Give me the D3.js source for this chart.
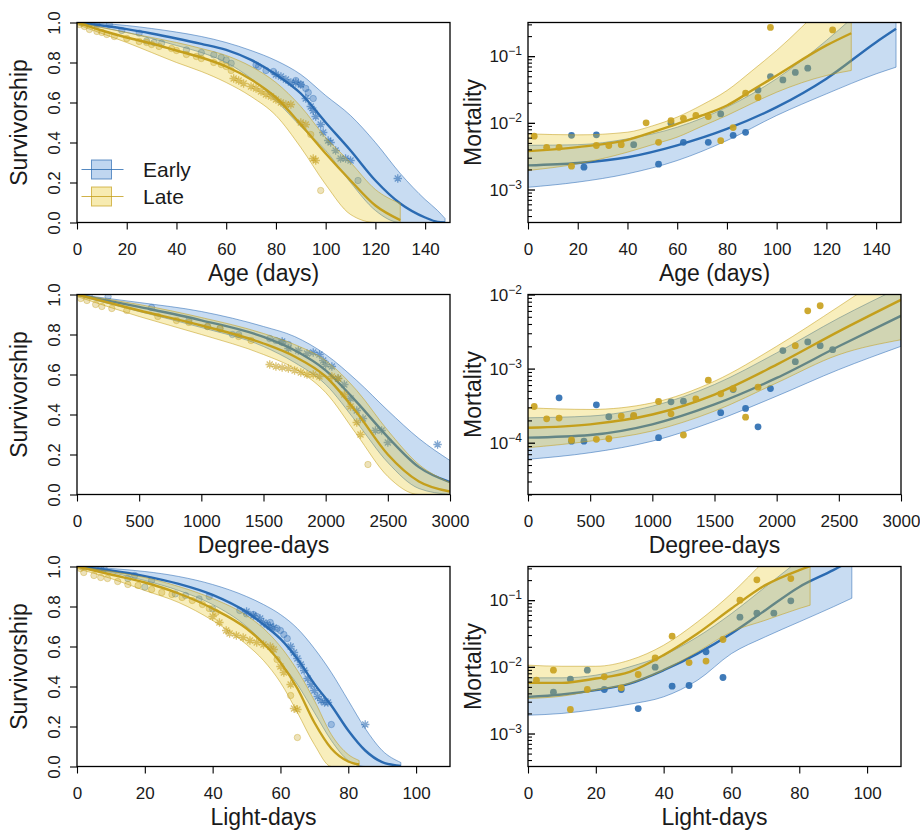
<!DOCTYPE html>
<html><head><meta charset="utf-8">
<script src="https://cdn.jsdelivr.net/npm/d3@7"></script>
<style>body{margin:0;background:#fff} text{font-family:"Liberation Sans",Arial,Helvetica,sans-serif}</style>
</head><body><svg id="chart" width="920" height="830"></svg>
<script>
// ---------- Tick values / labels ----------
const ageTicks = [0,20,40,60,80,100,120,140];
const ddTicks = [0,500,1000,1500,2000,2500,3000];
const ldTicks = [0,20,40,60,80,100];
const survTicks = [0,0.2,0.4,0.6,0.8,1.0];
const survTickLabels = ["0.0","0.2","0.4","0.6","0.8","1.0"];
const mortMajorA = [1e-3,1e-2,1e-1];
const mortMajorA_lab = ["\u22123","\u22122","\u22121"];
const mortMajorB = [1e-4,1e-3,1e-2];
const mortMajorB_lab = ["\u22124","\u22123","\u22122"];
const seriesNames = ["Early","Late"];

// ---------- Survivorship vs Age ----------
const ageEarlyX    = [0,10,20,30,40,50,60,70,80,90,100,110,120,130,140,145,148];
const ageEarlyMean = [1,0.985,0.967,0.945,0.92,0.893,0.863,0.813,0.74,0.645,0.50,0.36,0.21,0.095,0.025,0.003,0];
const ageEarlyHi   = [1,0.995,0.985,0.97,0.952,0.93,0.9,0.86,0.81,0.74,0.635,0.535,0.4,0.245,0.115,0.06,0.02];
const ageEarlyLo   = [1,0.975,0.95,0.92,0.885,0.85,0.8,0.72,0.61,0.48,0.36,0.2,0.06,0,0,0,0];
const ageLateX     = [0,10,20,30,40,50,60,70,80,90,100,110,120,130];
const ageLateMean  = [1,0.96,0.925,0.895,0.86,0.825,0.78,0.715,0.625,0.49,0.345,0.21,0.085,0.012];
const ageLateHi    = [1,0.975,0.95,0.925,0.9,0.87,0.835,0.78,0.7,0.58,0.425,0.3,0.165,0.095];
const ageLateLo    = [0.99,0.945,0.9,0.85,0.8,0.755,0.7,0.63,0.535,0.375,0.19,0.04,0,0];
const ageEarlyCirc = [[2,1.0],[8,0.99],[13,0.99],[18,0.96],[25,0.947],[28,0.908],[31,0.9],[34,0.896],[44,0.863],[50,0.85],[55,0.838],[58,0.825],[60,0.813],[62,0.796],[72,0.788],[73,0.78],[76,0.76],[79,0.755],[88,0.71],[90,0.69],[92,0.67],[93,0.65],[95,0.62],[113,0.21]];
const ageEarlyStar = [[80,0.74],[82,0.73],[84,0.715],[86,0.7],[88,0.7],[90,0.69],[92,0.62],[94,0.58],[95,0.56],[96,0.53],[98,0.49],[99,0.45],[101,0.41],[102,0.4],[104,0.36],[106,0.32],[108,0.32],[110,0.31],[129,0.22]];
const ageLateCirc  = [[1,0.99],[3,0.98],[5,0.965],[8,0.955],[10,0.95],[12,0.94],[15,0.93],[20,0.92],[25,0.905],[28,0.9],[30,0.89],[33,0.88],[38,0.87],[40,0.86],[44,0.84],[48,0.83],[50,0.82],[55,0.8],[58,0.79],[60,0.78],[62,0.76],[94,0.44],[98,0.16]];
const ageLateStar  = [[63,0.72],[65,0.71],[67,0.695],[70,0.68],[72,0.67],[74,0.655],[76,0.64],[78,0.63],[80,0.615],[82,0.6],[84,0.59],[86,0.59],[90,0.5],[92,0.49],[95,0.32],[96,0.31]];

// ---------- Mortality vs Age ----------
const mAgeEarlyX    = [0,20,40,60,80,100,120,140,148];
const mAgeEarlyMean = [2.3e-3,2.5e-3,3.05e-3,4.6e-3,8.1e-3,1.72e-2,4.6e-2,0.162,0.257];
const mAgeEarlyLo   = [1.08e-3,1.29e-3,1.72e-3,2.72e-3,5.43e-3,1.29e-2,2.72e-2,5.43e-2,6.84e-2];
const mAgeEarlyHi   = [4.6e-3,4.7e-3,5.75e-3,8.6e-3,1.72e-2,4.6e-2,0.172,0.8,1.5];
const mAgeLateX     = [0,20,40,50,60,70,80,90,100,120,130];
const mAgeLateMean  = [3.76e-3,4.32e-3,5.56e-3,7.24e-3,9.66e-3,1.29e-2,1.82e-2,3.05e-2,5.13e-2,0.145,0.221];
const mAgeLateLo    = [1.93e-3,2.43e-3,3.63e-3,4.7e-3,6.1e-3,8.9e-3,1.29e-2,1.95e-2,2.88e-2,5.13e-2,6.1e-2];
const mAgeLateHi    = [6.84e-3,6.6e-3,7.24e-3,9.0e-3,1.22e-2,1.86e-2,3.05e-2,6.0e-2,0.122,0.6,1.2];
const mAgeEarlyPts  = [[17.5,6.5e-3],[22.5,2.16e-3],[27.5,6.6e-3],[42.5,4.7e-3],[52.5,2.4e-3],[57.5,9.9e-3],[62.5,5.1e-3],[72.5,5.1e-3],[77.5,1.36e-2],[82.5,6.5e-3],[87.5,7.2e-3],[92.5,3.1e-2],[97.5,4.95e-2],[102.5,4.4e-2],[107.5,5.7e-2],[112.5,6.6e-2]];
const mAgeLatePts   = [[2.5,6.3e-3],[7.5,4.3e-3],[12.5,4.3e-3],[17.5,2.24e-3],[27.5,4.57e-3],[32.5,4.57e-3],[37.5,4.7e-3],[47.5,1.0e-2],[52.5,5.1e-3],[57.5,1.08e-2],[62.5,1.17e-2],[67.5,1.29e-2],[72.5,1.24e-2],[77.5,5.4e-3],[82.5,8.5e-3],[87.5,2.8e-2],[92.5,2.4e-2],[97.5,0.27],[122.5,0.248]];

// ---------- Survivorship vs Degree-days ----------
const ddEarlyX    = [0,500,1000,1500,1750,2000,2250,2500,2750,3000];
const ddEarlyMean = [1,0.938,0.871,0.788,0.721,0.621,0.462,0.287,0.137,0.062];
const ddEarlyHi   = [1,0.96,0.915,0.84,0.79,0.7,0.57,0.42,0.28,0.17];
const ddEarlyLo   = [0.995,0.915,0.835,0.74,0.66,0.55,0.36,0.16,0.03,0];
const ddLateX     = [0,500,1000,1500,1750,2000,2250,2500,2750,3000];
const ddLateMean  = [1,0.92,0.845,0.755,0.69,0.59,0.41,0.2,0.065,0.015];
const ddLateHi    = [1,0.95,0.885,0.805,0.75,0.67,0.52,0.32,0.15,0.06];
const ddLateLo    = [0.99,0.89,0.8,0.7,0.63,0.51,0.3,0.09,0,0];
const ddEarlyCirc = [[100,1],[250,0.99],[600,0.935],[900,0.87],[1050,0.84],[1150,0.83],[1250,0.8],[1300,0.8],[1550,0.78],[1600,0.77],[1650,0.76],[1700,0.75]];
const ddEarlyStar = [[1650,0.765],[1700,0.73],[1780,0.72],[1850,0.705],[1900,0.71],[1950,0.7],[1980,0.67],[2000,0.65],[2050,0.64],[2100,0.58],[2150,0.55],[2200,0.48],[2250,0.42],[2300,0.38],[2400,0.32],[2450,0.32],[2500,0.26],[2900,0.25]];
const ddLateCirc  = [[30,0.98],[80,0.97],[150,0.95],[200,0.94],[280,0.93],[400,0.92],[650,0.89],[800,0.87],[900,0.86],[1050,0.84],[1150,0.83],[1300,0.79],[1400,0.77],[2340,0.15]];
const ddLateStar  = [[1550,0.65],[1600,0.64],[1650,0.635],[1700,0.63],[1750,0.62],[1800,0.61],[1850,0.6],[1900,0.6],[1950,0.59],[2050,0.59],[2100,0.58],[2150,0.5],[2200,0.44],[2250,0.36],[2280,0.3]];

// ---------- Mortality vs Degree-days ----------
const mDdX        = [0,500,1000,1500,2000,2500,3000];
const mDdEarlyMean= [1.17e-4,1.27e-4,1.77e-4,3.28e-4,7.48e-4,2.0e-3,5.16e-3];
const mDdEarlyLo  = [5.97e-5,7.33e-5,1.05e-4,1.95e-4,4.25e-4,9.7e-4,2.0e-3];
const mDdEarlyHi  = [2.17e-4,2.29e-4,3.11e-4,6.1e-4,1.63e-3,4.81e-3,1.26e-2];
const mDdLateMean = [1.59e-4,1.77e-4,2.4e-4,4.47e-4,1.13e-3,3.18e-3,8.47e-3];
const mDdLateLo   = [8.57e-5,1.05e-4,1.44e-4,2.67e-4,6.41e-4,1.54e-3,2.45e-3];
const mDdLateHi   = [2.96e-4,2.81e-4,3.45e-4,6.76e-4,2.0e-3,6.9e-3,2.5e-2];
const mDdEarlyPts = [[250,4.03e-4],[350,1.05e-4],[450,1.05e-4],[550,3.24e-4],[650,2.24e-4],[850,2.29e-4],[1050,1.17e-4],[1150,3.56e-4],[1250,3.64e-4],[1550,2.54e-4],[1650,5.21e-4],[1750,2.9e-4],[1850,1.64e-4],[1950,5.38e-4],[2050,1.75e-3],[2150,1.24e-3],[2250,2.29e-3],[2350,2.04e-3],[2450,1.8e-3]];
const mDdLatePts  = [[50,3.08e-4],[150,2.1e-4],[250,2.15e-4],[350,1.09e-4],[550,1.11e-4],[650,1.13e-4],[750,2.29e-4],[850,2.33e-4],[1050,3.6e-4],[1150,2.45e-4],[1250,1.27e-4],[1350,3.91e-4],[1450,6.97e-4],[1550,4.56e-4],[1650,5.38e-4],[1750,2.21e-4],[1850,5.61e-4],[2150,2.04e-3],[2250,6.03e-3],[2350,7.05e-3]];

// ---------- Survivorship vs Light-days ----------
const ldEarlyX    = [0,10,20,30,40,50,55,60,65,70,75,80,85,90,95.5];
const ldEarlyMean = [1,0.98,0.952,0.913,0.858,0.772,0.71,0.638,0.538,0.413,0.305,0.18,0.08,0.022,0.003];
const ldEarlyHi   = [1,0.99,0.975,0.95,0.91,0.85,0.81,0.76,0.69,0.59,0.47,0.33,0.19,0.08,0.02];
const ldEarlyLo   = [0.995,0.97,0.93,0.88,0.81,0.7,0.62,0.52,0.41,0.27,0.13,0.03,0,0,0];
const ldLateX     = [0,10,20,30,40,50,55,60,65,70,75,80,83.2];
const ldLateMean  = [1,0.96,0.92,0.865,0.79,0.69,0.615,0.52,0.39,0.22,0.09,0.025,0.01];
const ldLateHi    = [1,0.975,0.945,0.9,0.84,0.755,0.69,0.6,0.48,0.33,0.16,0.06,0.03];
const ldLateLo    = [0.99,0.94,0.88,0.82,0.73,0.61,0.53,0.42,0.27,0.11,0,0,0];
const ldEarlyCirc = [[2,1],[7,0.99],[8,0.99],[15,0.94],[17,0.955],[20,0.897],[22,0.93],[29,0.863],[32,0.855],[36,0.838],[39,0.85],[40,0.788],[48,0.78],[50,0.763],[52,0.76],[53,0.75],[57,0.72],[59,0.69],[60,0.68],[61,0.66],[62,0.64],[75,0.21]];
const ldEarlyStar = [[50,0.775],[52,0.755],[54,0.74],[55,0.72],[56,0.71],[57,0.7],[58,0.695],[63,0.6],[64,0.57],[65,0.54],[66,0.51],[67,0.48],[68,0.44],[69,0.41],[70,0.38],[71,0.35],[72,0.33],[73,0.32],[74,0.32],[85,0.21]];
const ldLateCirc  = [[1,0.99],[2,0.97],[5,0.955],[7,0.945],[9,0.94],[12,0.925],[15,0.91],[18,0.905],[22,0.885],[25,0.87],[28,0.86],[31,0.845],[34,0.83],[37,0.81],[39,0.79],[41,0.77],[59,0.535],[63,0.355],[65,0.145]];
const ldLateStar  = [[40,0.75],[42,0.72],[44,0.68],[45,0.665],[47,0.655],[49,0.645],[51,0.63],[53,0.62],[55,0.61],[57,0.6],[58,0.585],[60,0.5],[61,0.47],[63,0.41],[64,0.29],[65,0.285]];

// ---------- Mortality vs Light-days ----------
const mLdEarlyX    = [0,10,20,30,40,50,60,70,80,90,95.5];
const mLdEarlyMean = [3.55e-3,3.85e-3,4.47e-3,5.62e-3,8.9e-3,1.58e-2,3.16e-2,7.08e-2,0.158,0.282,0.4];
const mLdEarlyLo   = [1.88e-3,2.0e-3,2.29e-3,2.75e-3,3.55e-3,6.3e-3,1.58e-2,2.82e-2,4.73e-2,7.94e-2,0.107];
const mLdEarlyHi   = [6.84e-3,6.84e-3,7.5e-3,1.0e-2,1.5e-2,2.82e-2,6.3e-2,0.158,0.4,1.0,1.6];
const mLdLateX     = [0,10,20,30,40,50,60,70,80,83.2];
const mLdLateMean  = [5.75e-3,5.75e-3,6.68e-3,8.4e-3,1.5e-2,3.16e-2,7.5e-2,0.168,0.282,0.324];
const mLdLateLo    = [3.35e-3,3.63e-3,4.47e-3,5.62e-3,8.9e-3,1.68e-2,3.35e-2,5.0e-2,7.5e-2,8.41e-2];
const mLdLateHi    = [1.06e-2,1.02e-2,1.02e-2,1.26e-2,2.11e-2,4.73e-2,0.126,0.4,1.2,2.0];
const mLdEarlyPts  = [[7.5,4.17e-3],[12.5,6.53e-3],[17.5,8.91e-3],[22.5,4.57e-3],[27.5,4.57e-3],[32.5,2.37e-3],[37.5,9.89e-3],[42.5,5.13e-3],[47.5,5.25e-3],[52.5,1.68e-2],[57.5,6.92e-3],[62.5,5.56e-2],[67.5,6.38e-2],[72.5,6.38e-2],[77.5,9.77e-2]];
const mLdLatePts   = [[2.5,6.31e-3],[7.5,8.91e-3],[12.5,2.29e-3],[17.5,4.57e-3],[22.5,7.08e-3],[27.5,4.84e-3],[32.5,7.67e-3],[37.5,1.36e-2],[42.5,2.88e-2],[47.5,1.16e-2],[52.5,1.22e-2],[57.5,2.57e-2],[62.5,0.1],[67.5,0.202],[77.5,0.211]];

// ---------- Build panel table ----------
function ser(x, m, lo, hi){ return x.map((v,i)=>({x:v, m:m[i], lo:lo[i], hi:hi[i]})); }
const panels = [
  {col:0,row:0,type:"surv",xdom:[0,150],xticks:ageTicks,xtitle:"Age (days)",
   E:ser(ageEarlyX,ageEarlyMean,ageEarlyLo,ageEarlyHi), L:ser(ageLateX,ageLateMean,ageLateLo,ageLateHi),
   Ec:ageEarlyCirc,Es:ageEarlyStar,Lc:ageLateCirc,Ls:ageLateStar,legend:true},
  {col:1,row:0,type:"mort",xdom:[0,150],xticks:ageTicks,xtitle:"Age (days)",ydom:[3.2e-4,0.32],maj:mortMajorA,majLab:mortMajorA_lab,
   E:ser(mAgeEarlyX,mAgeEarlyMean,mAgeEarlyLo,mAgeEarlyHi), L:ser(mAgeLateX,mAgeLateMean,mAgeLateLo,mAgeLateHi),
   Ep:mAgeEarlyPts,Lp:mAgeLatePts},
  {col:0,row:1,type:"surv",xdom:[0,3000],xticks:ddTicks,xtitle:"Degree-days",
   E:ser(ddEarlyX,ddEarlyMean,ddEarlyLo,ddEarlyHi), L:ser(ddLateX,ddLateMean,ddLateLo,ddLateHi),
   Ec:ddEarlyCirc,Es:ddEarlyStar,Lc:ddLateCirc,Ls:ddLateStar},
  {col:1,row:1,type:"mort",xdom:[0,3000],xticks:ddTicks,xtitle:"Degree-days",ydom:[2e-5,1e-2],maj:mortMajorB,majLab:mortMajorB_lab,
   E:ser(mDdX,mDdEarlyMean,mDdEarlyLo,mDdEarlyHi), L:ser(mDdX,mDdLateMean,mDdLateLo,mDdLateHi),
   Ep:mDdEarlyPts,Lp:mDdLatePts},
  {col:0,row:2,type:"surv",xdom:[0,110],xticks:ldTicks,xtitle:"Light-days",
   E:ser(ldEarlyX,ldEarlyMean,ldEarlyLo,ldEarlyHi), L:ser(ldLateX,ldLateMean,ldLateLo,ldLateHi),
   Ec:ldEarlyCirc,Es:ldEarlyStar,Lc:ldLateCirc,Ls:ldLateStar},
  {col:1,row:2,type:"mort",xdom:[0,110],xticks:ldTicks,xtitle:"Light-days",ydom:[3.2e-4,0.32],maj:mortMajorA,majLab:mortMajorA_lab,
   E:ser(mLdEarlyX,mLdEarlyMean,mLdEarlyLo,mLdEarlyHi), L:ser(mLdLateX,mLdLateMean,mLdLateLo,mLdLateHi),
   Ep:mLdEarlyPts,Lp:mLdLatePts}
];

const COL = {
  E:{line:"#2b6bb2", fill:"#4a8ad4", pt:"#2f6fb2"},
  L:{line:"#c49f1c", fill:"#e8c620", pt:"#c9a220"}
};
const W = 373, H = 200;
const colX = [77, 528];
const rowY = [22.5, 294.5, 566.5];
const svg = d3.select("#chart");

function starPath(r){
  const d = r*0.72;
  return `M${-r},0H${r}M0,${-r}V${r}M${-d},${-d}L${d},${d}M${-d},${d}L${d},${-d}`;
}

panels.forEach((p, idx) => {
  const g = svg.append("g").attr("transform", `translate(${colX[p.col]},${rowY[p.row]})`);
  const x = d3.scaleLinear().domain(p.xdom).range([0, W]);
  const y = p.type === "surv" ? d3.scaleLinear().domain([0,1]).range([H,0])
                              : d3.scaleLog().domain(p.ydom).range([H,0]);
  const cid = "clip" + idx;
  g.append("clipPath").attr("id", cid).append("rect").attr("width", W).attr("height", H);
  const plot = g.append("g").attr("clip-path", `url(#${cid})`);

  ["E","L"].forEach(k => {
    const c = COL[k], s = p[k];
    const area = d3.area().x(d=>x(d.x)).y0(d=>y(d.lo)).y1(d=>y(d.hi)).curve(d3.curveMonotoneX);
    plot.append("path").datum(s).attr("d", area)
      .attr("fill", c.fill).attr("fill-opacity", 0.3)
      .attr("stroke", c.line).attr("stroke-opacity", 0.6).attr("stroke-width", 0.9);
    const line = d3.line().x(d=>x(d.x)).y(d=>y(d.m)).curve(d3.curveMonotoneX);
    plot.append("path").datum(s).attr("d", line)
      .attr("fill","none").attr("stroke", c.line).attr("stroke-width", 2.4);
    if (p.type === "surv") {
      plot.append("g").selectAll("circle").data(p[k+"c"]).join("circle")
        .attr("cx", d=>x(d[0])).attr("cy", d=>y(d[1])).attr("r", 3.2)
        .attr("fill", c.line).attr("fill-opacity", 0.3)
        .attr("stroke", c.line).attr("stroke-opacity", 0.45).attr("stroke-width", 0.8);
      plot.append("g").selectAll("path").data(p[k+"s"]).join("path")
        .attr("transform", d=>`translate(${x(d[0])},${y(d[1])})`)
        .attr("d", starPath(4.2)).attr("fill","none")
        .attr("stroke", c.line).attr("stroke-opacity", 0.6).attr("stroke-width", 1.3);
    } else {
      plot.append("g").selectAll("circle").data(p[k+"p"]).join("circle")
        .attr("cx", d=>x(d[0])).attr("cy", d=>y(d[1])).attr("r", 3.4)
        .attr("fill", c.pt).attr("fill-opacity", 0.92);
    }
  });

  // box
  g.append("rect").attr("width", W).attr("height", H).attr("fill","none")
    .attr("stroke","#000").attr("stroke-width",1.3);

  // x axis
  const xa = g.append("g").attr("transform", `translate(0,${H})`)
    .call(d3.axisBottom(x).tickValues(p.xticks).tickSize(7).tickSizeOuter(0).tickPadding(13).tickFormat(d3.format("d")));
  xa.select(".domain").remove();
  xa.attr("font-size", 17).attr("font-family", null).attr("color","#000");
  xa.selectAll("line").attr("stroke-width", 1.1);
  xa.selectAll("text").attr("fill","#1a1a1a");

  g.append("text").attr("x", W/2).attr("y", H + 58).attr("text-anchor","middle")
    .attr("font-size", 23).attr("fill","#1a1a1a").text(p.xtitle);

  if (p.type === "surv") {
    const ya = g.append("g")
      .call(d3.axisLeft(y).tickValues(survTicks).tickSize(7).tickSizeOuter(0).tickFormat((d,i)=>survTickLabels[i]));
    ya.select(".domain").remove();
    ya.attr("font-size", 17).attr("font-family", null).attr("color","#000");
    ya.selectAll("line").attr("stroke-width", 1.1);
    ya.selectAll("text").attr("x", null).attr("dy", null).attr("text-anchor","middle")
      .attr("fill","#1a1a1a").attr("transform","translate(-17,0) rotate(-90)");
    g.append("text").attr("transform", `translate(-50,${H/2}) rotate(-90)`).attr("text-anchor","middle")
      .attr("font-size", 23).attr("fill","#1a1a1a").text("Survivorship");
  } else {
    const minors = y.ticks().filter(t => !p.maj.some(m => Math.abs(t/m - 1) < 1e-6));
    const ymin = g.append("g").call(d3.axisLeft(y).tickValues(minors).tickSize(-4).tickSizeOuter(0).tickFormat(""));
    ymin.select(".domain").remove();
    ymin.attr("color","#000").selectAll("line").attr("stroke-width",1.1);
    const ymaj = g.append("g").call(d3.axisLeft(y).tickValues(p.maj).tickSize(-7).tickSizeOuter(0).tickFormat(""));
    ymaj.select(".domain").remove();
    ymaj.attr("color","#000").selectAll("line").attr("stroke-width",1.3);
    p.maj.forEach((t,i) => {
      const tx = g.append("text").attr("x", -6).attr("y", y(t) + 6).attr("text-anchor","end")
        .attr("font-size", 17).attr("fill","#1a1a1a");
      tx.append("tspan").text("10");
      tx.append("tspan").attr("dy", -7).attr("font-size", 12).text(p.majLab[i]);
    });
    g.append("text").attr("transform", `translate(-47,${H/2}) rotate(-90)`).attr("text-anchor","middle")
      .attr("font-size", 23).attr("fill","#1a1a1a").text("Mortality");
  }

  if (p.legend) {
    const lg = svg.append("g");
    const items = [{k:"E", y:169.5}, {k:"L", y:196.5}];
    items.forEach((it, i) => {
      const c = COL[it.k];
      lg.append("rect").attr("x", 91.5).attr("y", it.y - 9.5).attr("width", 20).attr("height", 19)
        .attr("fill", c.fill).attr("fill-opacity", 0.35).attr("stroke", c.line).attr("stroke-opacity", 0.7).attr("stroke-width", 1);
      lg.append("line").attr("x1", 81.5).attr("x2", 123.5).attr("y1", it.y).attr("y2", it.y)
        .attr("stroke", c.line).attr("stroke-opacity", 0.8).attr("stroke-width", 1.2);
      lg.append("text").attr("x", 143).attr("y", it.y + 7.5).attr("font-size", 21)
        .attr("fill","#1a1a1a").text(seriesNames[i]);
    });
  }
});
</script></body></html>
